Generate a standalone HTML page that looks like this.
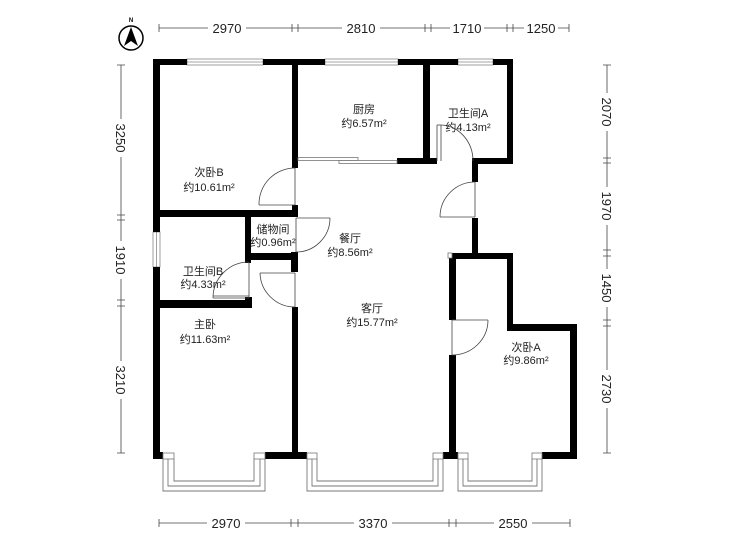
<!DOCTYPE html>
<html><head><meta charset="utf-8"><style>
html,body{margin:0;padding:0;background:#fff;}
svg{display:block;}
text{font-family:"Liberation Sans","Noto Sans CJK SC",sans-serif;}
</style></head><body>
<svg width="729" height="547" viewBox="0 0 729 547" xmlns="http://www.w3.org/2000/svg">
<!-- compass -->
<circle cx="131" cy="38" r="12" fill="none" stroke="#000" stroke-width="1.5"/>
<polygon points="131,27 138,46 131,41 124,46" fill="#000"/>
<text x="131" y="22" font-size="6" text-anchor="middle" font-weight="bold">N</text>

<!-- dimension lines -->
<g stroke="#444" stroke-width="0.8" fill="none">
<line x1="159" y1="28" x2="569" y2="28"/>
<line x1="159" y1="523" x2="570" y2="523"/>
<line x1="121" y1="65" x2="121" y2="453"/>
<line x1="607" y1="65" x2="607" y2="453"/>
<path d="M159,24v8 M292,24v8 M298,24v8 M425,24v8 M431,24v8 M507,24v8 M513,24v8 M569,24v8"/>
<path d="M159,519v8 M291,519v8 M298,519v8 M449,519v8 M456,519v8 M570,519v8"/>
<path d="M117,65h8 M117,215h8 M117,220h8 M117,300h8 M117,306h8 M117,453h8"/>
<path d="M603,65h8 M603,158h8 M603,163h8 M603,250h8 M603,256h8 M603,320h8 M603,326h8 M603,453h8"/>
</g>
<g font-size="13" fill="#222">
<rect x="208" y="20" width="38" height="16" fill="#fff"/><text x="227" y="33" text-anchor="middle">2970</text>
<rect x="342" y="20" width="38" height="16" fill="#fff"/><text x="361" y="33" text-anchor="middle">2810</text>
<rect x="450" y="20" width="34" height="16" fill="#fff"/><text x="467" y="33" text-anchor="middle">1710</text>
<rect x="524" y="20" width="34" height="16" fill="#fff"/><text x="541" y="33" text-anchor="middle">1250</text>
<rect x="207" y="515" width="38" height="16" fill="#fff"/><text x="226" y="528" text-anchor="middle">2970</text>
<rect x="354" y="515" width="38" height="16" fill="#fff"/><text x="373" y="528" text-anchor="middle">3370</text>
<rect x="494" y="515" width="38" height="16" fill="#fff"/><text x="513" y="528" text-anchor="middle">2550</text>
<g transform="translate(121,138) rotate(90)"><rect x="-19" y="-8" width="38" height="16" fill="#fff"/><text x="0" y="5" text-anchor="middle">3250</text></g>
<g transform="translate(121,260) rotate(90)"><rect x="-19" y="-8" width="38" height="16" fill="#fff"/><text x="0" y="5" text-anchor="middle">1910</text></g>
<g transform="translate(121,380) rotate(90)"><rect x="-19" y="-8" width="38" height="16" fill="#fff"/><text x="0" y="5" text-anchor="middle">3210</text></g>
<g transform="translate(607,112) rotate(90)"><rect x="-19" y="-8" width="38" height="16" fill="#fff"/><text x="0" y="5" text-anchor="middle">2070</text></g>
<g transform="translate(607,206) rotate(90)"><rect x="-19" y="-8" width="38" height="16" fill="#fff"/><text x="0" y="5" text-anchor="middle">1970</text></g>
<g transform="translate(607,288) rotate(90)"><rect x="-19" y="-8" width="38" height="16" fill="#fff"/><text x="0" y="5" text-anchor="middle">1450</text></g>
<g transform="translate(607,389) rotate(90)"><rect x="-19" y="-8" width="38" height="16" fill="#fff"/><text x="0" y="5" text-anchor="middle">2730</text></g>
</g>

<!-- windows on walls -->
<g fill="#fff" stroke="#888" stroke-width="0.8">
<rect x="187" y="59" width="76" height="6"/><line x1="187" y1="62" x2="263" y2="62"/>
<rect x="325" y="59" width="73" height="6"/><line x1="325" y1="62" x2="398" y2="62"/>
<rect x="458" y="59" width="35" height="6"/><line x1="458" y1="62" x2="493" y2="62"/>
<rect x="153" y="232" width="7" height="35"/><line x1="156.5" y1="232" x2="156.5" y2="267"/>
</g>

<!-- walls -->
<g fill="#000">
<rect x="153" y="59" width="34" height="6"/>
<rect x="263" y="59" width="62" height="6"/>
<rect x="398" y="59" width="60" height="6"/>
<rect x="493" y="59" width="20" height="6"/>
<rect x="153" y="59" width="7" height="173"/>
<rect x="153" y="267" width="7" height="192"/>
<rect x="292" y="59" width="6" height="109"/>
<rect x="292" y="205" width="6" height="12"/>
<rect x="423" y="59" width="7" height="105"/>
<rect x="507" y="59" width="6" height="105"/>
<rect x="397" y="158" width="40" height="6"/>
<rect x="472" y="158" width="41" height="6"/>
<rect x="472" y="158" width="6" height="24"/>
<rect x="472" y="218" width="6" height="37"/>
<rect x="449" y="253" width="64" height="6"/>
<rect x="507" y="253" width="6" height="78"/>
<rect x="507" y="324" width="70" height="7"/>
<rect x="570" y="324" width="7" height="135"/>
<rect x="449" y="253" width="7" height="67"/>
<rect x="449" y="355" width="7" height="104"/>
<rect x="153" y="210" width="145" height="7"/>
<rect x="245" y="210" width="6" height="53"/>
<rect x="245" y="253" width="53" height="7"/>
<rect x="291" y="252" width="7" height="20"/>
<rect x="292" y="307" width="6" height="152"/>
<rect x="153" y="300" width="99" height="8"/>
<rect x="245" y="297" width="7" height="11"/>
<rect x="153" y="452" width="10" height="7"/>
<rect x="265" y="452" width="42" height="7"/>
<rect x="443" y="452" width="15" height="7"/>
<rect x="542" y="452" width="35" height="7"/>
</g>

<!-- sliding door -->
<g fill="#fff" stroke="#777" stroke-width="0.8">
<rect x="298" y="157.5" width="60" height="3"/>
<rect x="339" y="160.5" width="58" height="3"/>
</g>

<!-- doors -->
<g fill="none" stroke="#444" stroke-width="0.8">
<!-- 次卧B -->
<line x1="295" y1="168" x2="295" y2="205"/><line x1="259" y1="205" x2="295" y2="205"/>
<path d="M259,205 A36,36 0 0 1 295,168"/>
<!-- storage -->
<line x1="296" y1="218" x2="330" y2="218"/><line x1="296" y1="218" x2="296" y2="252"/>
<path d="M330,218 A34,34 0 0 1 296,252"/>
<!-- living -->
<line x1="260" y1="273" x2="295" y2="273"/><line x1="295" y1="273" x2="295" y2="307"/>
<path d="M260,273 A35,35 0 0 0 295,307"/>
<!-- bath B -->
<line x1="249" y1="262" x2="249" y2="298"/><line x1="213" y1="298" x2="249" y2="298"/><line x1="213" y1="296" x2="249" y2="296"/>
<path d="M213,298 A36,36 0 0 1 249,262"/>
<!-- bath A -->
<line x1="437" y1="125" x2="437" y2="161"/><line x1="441" y1="125" x2="441" y2="161"/><line x1="437" y1="125" x2="441" y2="125"/>
<path d="M441,125 A33,36 0 0 1 473,161"/>
<!-- dining side door -->
<line x1="475" y1="182" x2="475" y2="217"/><line x1="440" y1="217" x2="475" y2="217"/>
<path d="M440,217 A35,35 0 0 1 475,182"/>
<!-- 次卧A -->
<line x1="452" y1="320" x2="488" y2="320"/><line x1="452" y1="320" x2="452" y2="355"/>
<path d="M488,320 A36,35 0 0 1 452,355"/>
</g>

<!-- bay windows -->
<g fill="none" stroke="#777" stroke-width="0.9">
<path d="M163,459 V491 H265 V459"/><path d="M168,459 V486 H260 V459"/><path d="M174,459 V481 H254 V459"/>
<path d="M307,459 V491 H443 V459"/><path d="M312,459 V486 H438 V459"/><path d="M317,459 V481 H433 V459"/>
<path d="M458,459 V491 H542 V459"/><path d="M463,459 V486 H537 V459"/><path d="M468,459 V481 H532 V459"/>
</g>
<g fill="#fff" stroke="#777" stroke-width="0.8">
<rect x="163" y="453" width="11" height="6"/><rect x="254" y="453" width="11" height="6"/>
<rect x="307" y="453" width="10" height="6"/><rect x="433" y="453" width="10" height="6"/>
<rect x="458" y="453" width="10" height="6"/><rect x="532" y="453" width="10" height="6"/>
<rect x="448" y="253" width="4" height="5"/>
</g>

<!-- room labels -->
<g font-size="11" fill="#222" text-anchor="middle">
<text x="364" y="113">厨房</text><text x="364" y="127">约6.57m²</text>
<text x="468" y="117">卫生间A</text><text x="468" y="131">约4.13m²</text>
<text x="209" y="176">次卧B</text><text x="209" y="191">约10.61m²</text>
<text x="273" y="233">储物间</text><text x="273" y="246">约0.96m²</text>
<text x="350" y="242">餐厅</text><text x="350" y="256">约8.56m²</text>
<text x="203" y="275">卫生间B</text><text x="203" y="288">约4.33m²</text>
<text x="372" y="312">客厅</text><text x="372" y="326">约15.77m²</text>
<text x="205" y="328">主卧</text><text x="205" y="343">约11.63m²</text>
<text x="526" y="351">次卧A</text><text x="526" y="364">约9.86m²</text>
</g>
</svg>
</body></html>
